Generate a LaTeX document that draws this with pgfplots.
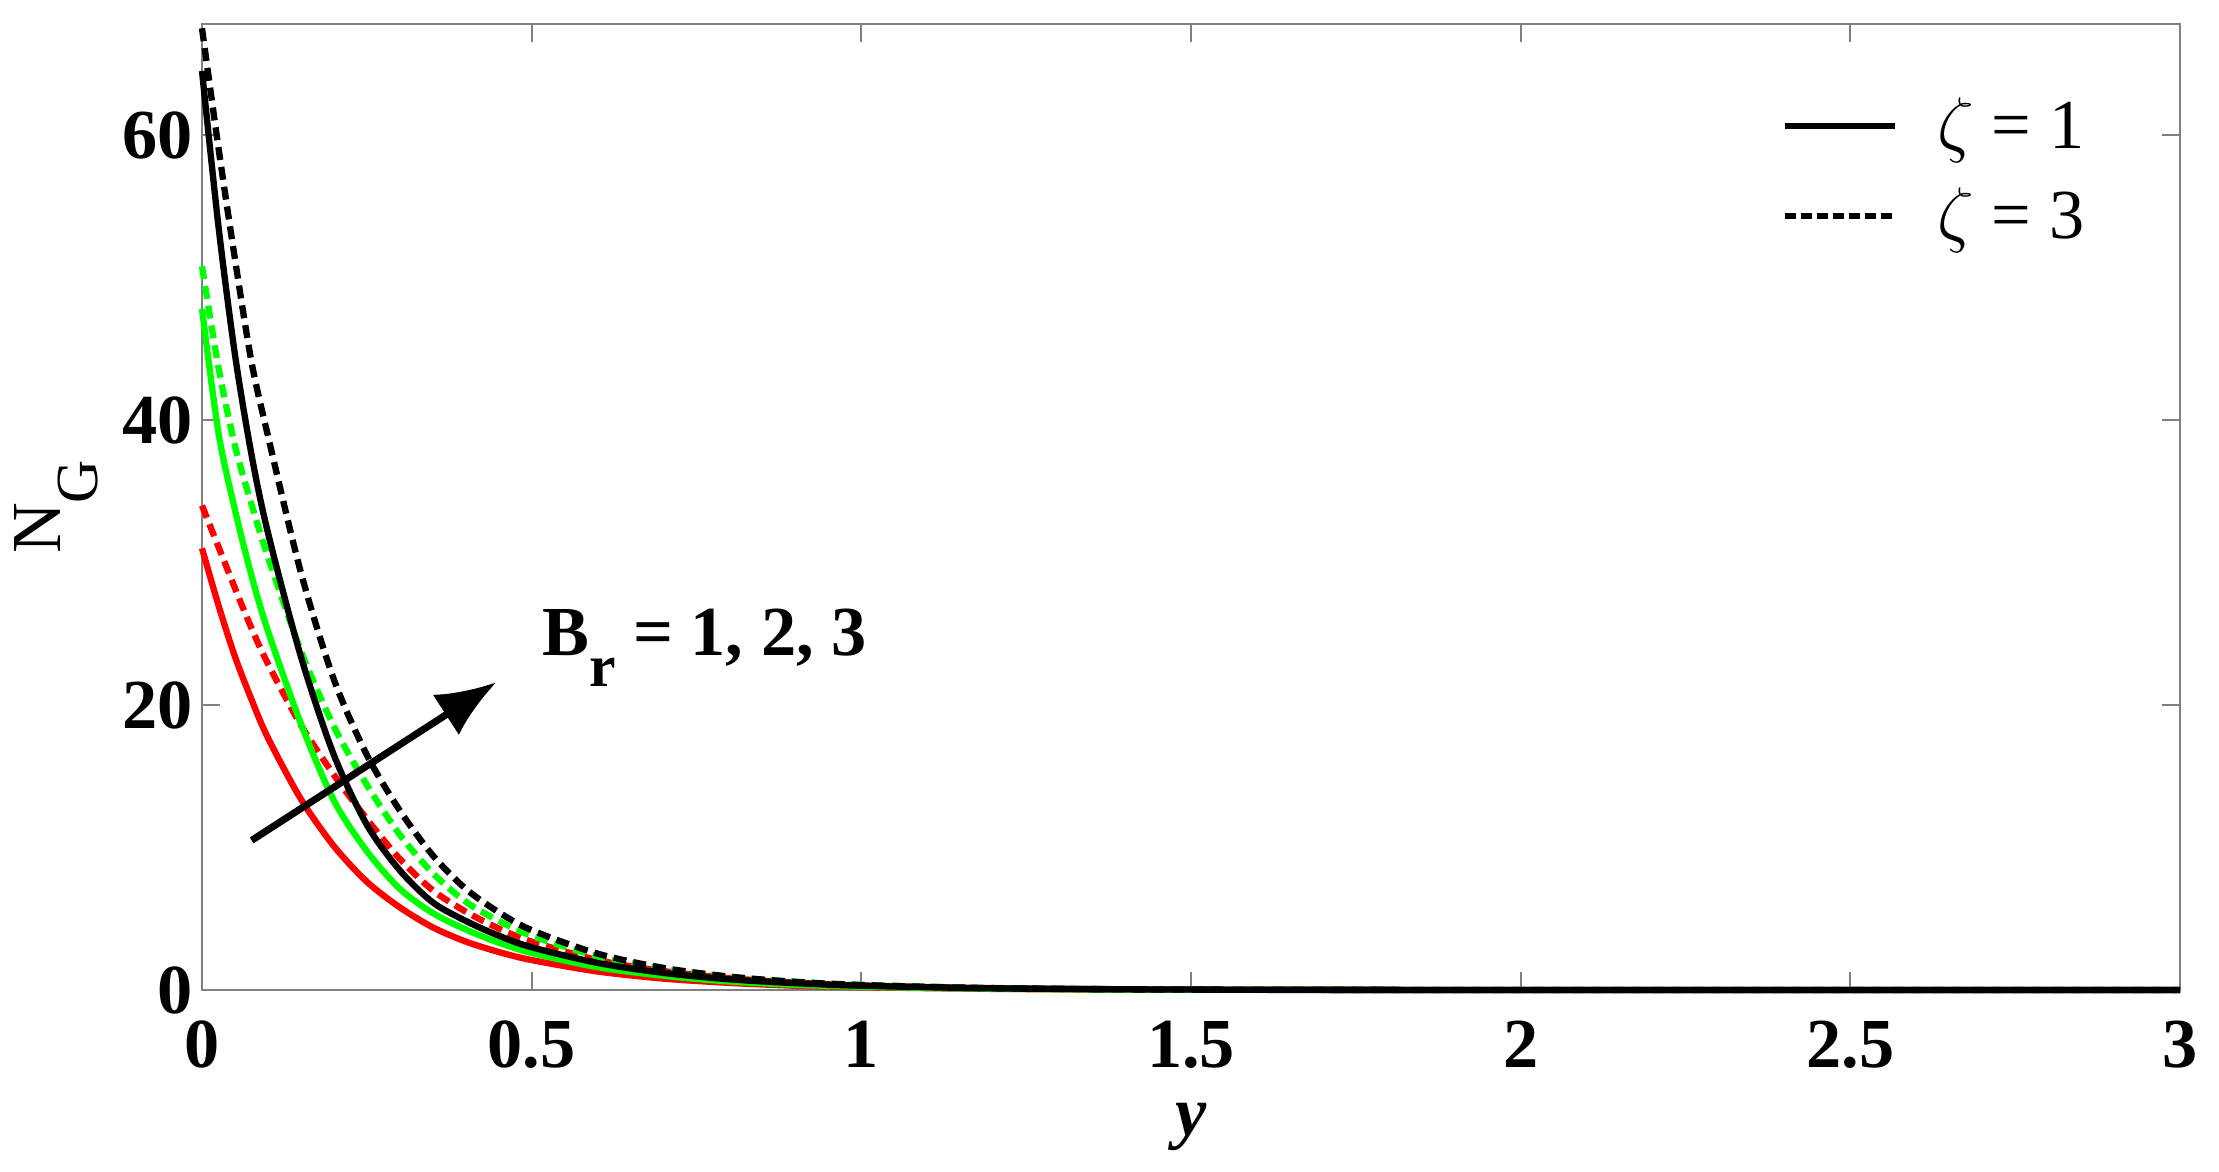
\documentclass[border=0pt]{standalone}
\usepackage{fontspec}
\setmainfont{Liberation Serif}
\usepackage{pgfplots}
\usepackage{pgfplotstable}
\pgfplotsset{compat=1.18}
\usetikzlibrary{arrows.meta}

% N_G against y, three Br for each zeta
\pgfplotstableread{
x     rs    rd    gs    gd    bs    bd
0     31.0  34.0  47.8  50.8  64.5  67.5
0.025 27.0  31.1  39.1  43.7  53.6  59.1
0.05  23.4  28.2  33.7  38.2  44.6  51.3
0.075 20.4  25.4  29.1  34.1  37.6  44.1
0.1   17.7  22.9  25.2  30.4  32.1  38.9
0.15  13.4  18.6  18.7  23.8  23.4  29.3
0.2   10.1  15.1  13.3  18.5  16.5  21.8
0.25  7.6   12.0  9.75  14.4  11.6  16.5
0.3   5.8   9.2   7.1   10.9  8.4   12.6
0.35  4.4   7.0   5.4   8.2   6.15  9.45
0.4   3.4   5.5   4.25  6.2   4.85  7.1
0.45  2.67  4.32  3.32  4.85  3.81  5.46
0.5   2.1   3.4   2.6   3.8   3.0   4.2
0.6   1.3   2.1   1.6   2.37  1.9   2.55
0.7   0.8   1.33  1.0   1.48  1.2   1.55
0.8   0.5   0.83  0.6   0.92  0.75  0.94
0.9   0.3   0.52  0.37  0.58  0.48  0.57
1.0   0.2   0.32  0.23  0.36  0.3   0.35
1.2   0.08  0.13  0.09  0.14  0.12  0.13
1.5   0.02  0.03  0.02  0.03  0.03  0.03
2     0     0     0     0     0     0
2.5   0     0     0     0     0     0
3     0     0     0     0     0     0
}\ngdata

\tikzset{
  crv/.style={line width=1.8pt},
  dsh/.style={dash pattern=on 1.3mm off 0.7mm},
}

\begin{document}
\begin{tikzpicture}
\begin{axis}[
    name=ax,
    scale only axis,
    width=197.8mm, height=96.6mm,
    xmin=0, xmax=3,
    ymin=0, ymax=67.8,
    xtick={0,0.5,1,1.5,2,2.5,3},
    ytick={0,20,40,60},
    clip=false,
    axis line style={gray, line width=0.6pt},
    tick style={gray, line width=0.6pt},
    major tick length=1.8mm,
    /pgf/number format/assume math mode=true,
    tick label style={font=\fontsize{20}{24}\selectfont\bfseries, inner sep=0pt},
    xticklabel style={yshift=-3mm},
    yticklabel style={xshift=-0.9mm},
    xlabel={\textbf{\textit{y}}},
    xlabel style={at={(axis description cs:0.5,-0.142)}, anchor=center,
                  font=\fontsize{20}{24}\selectfont, inner sep=0pt},
    ylabel={N\raisebox{-10.5pt}{\fontsize{17}{17}\selectfont G}},
    ylabel style={at={(axis description cs:-0.0738,0.5)}, anchor=center,
                  font=\fontsize{20}{24}\selectfont, inner sep=0pt},
    legend style={draw=none, fill=none, at={(0.952,0.924)}, anchor=north east,
                  font=\fontsize{20}{24}\selectfont, inner sep=0pt,
                  nodes={inner sep=0pt}, row sep=3.4mm,
                  /tikz/every odd column/.append style={column sep=4mm}},
    legend cell align=left,
    legend image code/.code={\draw[#1] (0mm,0mm) -- (11mm,0mm);},
]
\addplot[crv, red, smooth, forget plot] table[x=x, y=rs] {\ngdata};
\addplot[crv, red, dsh, smooth, forget plot] table[x=x, y=rd] {\ngdata};
\addplot[crv, green, smooth, forget plot] table[x=x, y=gs] {\ngdata};
\addplot[crv, green, dsh, smooth, forget plot] table[x=x, y=gd] {\ngdata};
\addplot[crv, black, smooth, forget plot] table[x=x, y=bs] {\ngdata};
\addplot[crv, black, dsh, smooth, forget plot] table[x=x, y=bd] {\ngdata};

\addlegendimage{black, line width=1.8pt}
\addlegendentry{$\zeta$ = 1}
\addlegendimage{black, line width=1.8pt, dash pattern=on 1.1mm off 0.5mm}
\addlegendentry{$\zeta$ = 3}

\draw[-{Latex[length=6mm,width=4.8mm]}, line width=2pt]
    (axis cs:0.0753,10.5) -- (axis cs:0.4465,21.6);
\node[anchor=base west, inner sep=0pt, font=\fontsize{20}{24}\selectfont\bfseries]
    at (axis cs:0.515,23.5) {B\raisebox{-9pt}{\fontsize{17}{17}\selectfont r} = 1, 2, 3};
\end{axis}
\path ([xshift=-20.2mm,yshift=-18.1mm]ax.south west) rectangle ([xshift=3.9mm,yshift=2.4mm]ax.north east);
\end{tikzpicture}
\end{document}
